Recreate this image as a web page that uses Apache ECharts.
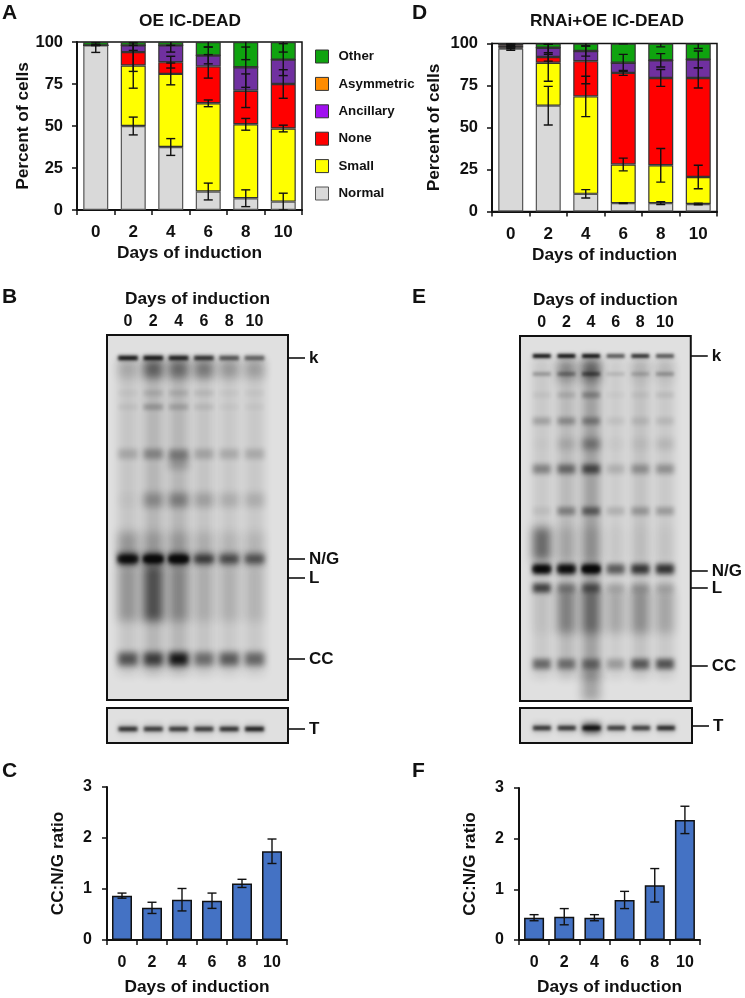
<!DOCTYPE html>
<html>
<head>
<meta charset="utf-8">
<style>html,body{margin:0;padding:0;background:#fff}#c{width:745px;height:998px}</style>
<script src="https://cdn.jsdelivr.net/npm/echarts@6/dist/echarts.min.js"></script>
</head>
<body>
<div id="c"></div>
<script>
var days = ['0','2','4','6','8','10'];
var dayValues = [0,2,4,6,8,10];
var seriesNames = ['Normal','Small','None','Ancillary','Asymmetric','Other'];

// Panel A: stacked segments
var aNormal = [98,50,37.5,11,7,5];
var aSmall = [0,36,43.5,52.5,44,43.5];
var aNone = [0,8,7,22,20,26.5];
var aAncillary = [0,4,10,6.5,14,14.5];
var aAsymmetric = [0,0,0,0,0,0];
var aOther = [2,2,2,8,15,10.5];
// Panel A: error half-widths
var aNormalErr = [4.2,5.3,5,5,5,5];
var aSmallErr = [0,13.5,6.5,2,3.5,2];
var aNoneErr = [0,11.5,3.5,7,10,8.5];
var aAncillaryErr = [0,3,4,5,12,9.5];
var aOtherErr = [0.5,2,2,3,10.5,6];

// Panel D: stacked segments
var dNormal = [97,63,10.5,5,5,4.5];
var dSmall = [0.5,25.5,58,23,22.5,16];
var dNone = [1.5,3.5,21,54.5,52,59];
var dAncillary = [0.5,5.5,6,6,10.5,11];
var dAsymmetric = [0,0,0,0,0,0];
var dOther = [0.5,2.5,4.5,11.5,10,9.5];
// Panel D: error half-widths
var dNormalErr = [1,11.5,2.5,0.3,0.8,0.5];
var dSmallErr = [0.5,11,12,3.8,10,7];
var dNoneErr = [1,2.5,13.5,1.5,5,6];
var dAncillaryErr = [0.5,4,3,5,4,5];
var dOtherErr = [0.5,0.5,1.5,0.2,2,3];

// Panels C and F
var cRatio = [0.87,0.63,0.79,0.77,1.11,1.74];
var cErr = [0.05,0.11,0.22,0.15,0.08,0.24];
var fRatio = [0.44,0.46,0.44,0.79,1.08,2.37];
var fErr = [0.06,0.16,0.06,0.17,0.33,0.27];

// Gel band tables: [migration, thickness, darkness per lane]
var gelBRows = [
  [182,316,[.12,.2,.2,.13,.11,.11]],
  [34,18,[.15,.5,.45,.4,.25,.22]],
  [58,6,[.03,.1,.1,.08,.03,.03]],
  [72,6,[.05,.22,.16,.08,.03,.03]],
  [119,10,[.17,.3,.3,.18,.16,.16]],
  [127,14,[0,0,.22,0,0,0]],
  [165,14,[.03,.28,.35,.2,.14,.14]],
  [210,26,[.25,.18,.18,.12,.1,.1]],
  [258,56,[.25,.6,.28,.12,.12,.1]],
  [23,4.5,[1,1,.95,.85,.66,.6]],
  [224,11,[1,1,1,.65,.62,.58]],
  [224,6,[.75,1,1,.25,.12,.12]],
  [324,13,[.62,.72,.95,.48,.58,.52]]
];
var gelBLowerRows = [[21,4.5,[.85,.8,.8,.8,.85,.95]],[21,11,[.12,.12,.12,.12,.12,.12]]];

var gelERows = [
  [182,320,[.11,.18,.3,.09,.14,.11]],
  [38,4,[.28,.38,.55,.12,.18,.28]],
  [35,20,[0,.28,.42,0,.08,.08]],
  [59,6,[.05,.12,.27,.03,.05,.08]],
  [85,7,[.22,.3,.35,.07,.1,.1]],
  [108,11,[.02,.12,.35,.03,.06,.1]],
  [133,9,[.38,.5,.65,.15,.3,.3]],
  [175,8,[.07,.35,.5,.14,.25,.24]],
  [208,32,[.5,.12,.12,.03,.03,.03]],
  [275,44,[.05,.33,.38,.18,.28,.18]],
  [20,4,[1,1,1,.65,.85,.65]],
  [233,10,[1,.98,1,.55,.72,.75]],
  [233,5,[.65,.45,1,.05,.12,.12]],
  [252,9,[.72,.35,.55,.15,.2,.15]],
  [328,10,[.5,.45,.45,.25,.58,.62]],
  [350,30,[0,0,.28,0,0,0]]
];
var gelELowerRows = [[20,4.5,[.82,.82,1,.78,.78,.88]],[20,11,[.12,.12,.6,.1,.1,.12]]];

var gelBLabels = {23:'k',224:'N/G',243:'L',324:'CC'};
var gelELabels = {20:'k',235:'N/G',252:'L',330:'CC'};
var lowerLabelB = {21:'T'};
var lowerLabelE = {18:'T'};

var FONT = 'Liberation Sans';
var INK = '#111';
var grids = [], xAxes = [], yAxes = [], series = [];

function bold(size){ return {fontFamily:FONT,fontWeight:'bold',fontSize:size,color:INK}; }

function addGrid(rect){ grids.push(rect); return grids.length-1; }

function errSeries(idx, base, errs){
  var data = base.map(function(v,i){ return [i, v, v-errs[i], v+errs[i]]; });
  series.push({
    type:'custom', xAxisIndex:idx, yAxisIndex:idx, clip:true, z:6, silent:true,
    encode:{x:0,y:[1,2,3]}, data:data,
    renderItem:function(params,api){
      var x = api.value(0), lo = api.coord([x,api.value(2)]), hi = api.coord([x,api.value(3)]);
      var cap = 4.5;
      var ls = {stroke:'#111',lineWidth:1.4,fill:null};
      return {type:'group',children:[
        {type:'line',shape:{x1:lo[0],y1:lo[1],x2:hi[0],y2:hi[1]},style:ls},
        {type:'line',shape:{x1:lo[0]-cap,y1:lo[1],x2:lo[0]+cap,y2:lo[1]},style:ls},
        {type:'line',shape:{x1:hi[0]-cap,y1:hi[1],x2:hi[0]+cap,y2:hi[1]},style:ls}
      ]};
    }
  });
}

var stackColors = {Normal:'#d9d9d9',Small:'#ffff00',None:'#ff0000',Ancillary:'#7030a0',Asymmetric:'#ff8c00',Other:'#0fa30f'};
var stackBorders = {Normal:'#555',Small:'#333',None:'#333',Ancillary:'#333',Asymmetric:'#333',Other:'#333'};

function stackedPanel(rect, segs, errs, nameGap, stackId){
  var idx = addGrid(Object.assign({show:true,borderColor:INK,borderWidth:1.5,backgroundColor:'#fff'},rect));
  xAxes.push({type:'category',gridIndex:idx,data:days,
    axisLine:{lineStyle:{color:INK,width:2}},
    axisTick:{show:true,length:5,lineStyle:{color:INK,width:1.5}},
    axisLabel:Object.assign(bold(17),{margin:14}),
    name:'Days of induction',nameLocation:'middle',nameGap:35,nameTextStyle:bold(17.3)});
  yAxes.push({type:'value',gridIndex:idx,min:0,max:100,interval:25,
    axisLine:{show:true,lineStyle:{color:INK,width:2}},
    axisTick:{show:true,length:5,lineStyle:{color:INK,width:1.5}},
    splitLine:{show:false},
    axisLabel:Object.assign(bold(16.5),{margin:14}),
    name:'Percent of cells',nameLocation:'middle',nameGap:nameGap,nameTextStyle:bold(17.3)});
  seriesNames.forEach(function(n,k){
    series.push({type:'bar',name:n,stack:stackId,xAxisIndex:idx,yAxisIndex:idx,data:segs[k],barWidth:25,z:3,
      itemStyle:{color:stackColors[n],borderColor:stackBorders[n],borderWidth:1.2},
      emphasis:{disabled:true}});
  });
  var cum = days.map(function(){return 0;});
  segs.forEach(function(seg,k){
    cum = cum.map(function(c,i){return c+seg[i];});
    if(errs[k]) errSeries(idx,cum.slice(),errs[k]);
  });
}

function ratioPanel(rect, values, errs){
  var idx = addGrid(rect);
  xAxes.push({type:'category',gridIndex:idx,data:days,
    axisLine:{lineStyle:{color:INK,width:2}},
    axisTick:{show:true,length:5,lineStyle:{color:INK,width:1.5}},
    axisLabel:Object.assign(bold(16),{margin:15}),
    name:'Days of induction',nameLocation:'middle',nameGap:39,nameTextStyle:bold(17.3)});
  yAxes.push({type:'value',gridIndex:idx,min:0,max:3,interval:1,
    axisLine:{show:true,lineStyle:{color:INK,width:2}},
    axisTick:{show:true,length:5,lineStyle:{color:INK,width:1.5}},
    splitLine:{show:false},
    axisLabel:Object.assign(bold(16),{margin:15}),
    name:'CC:N/G ratio',nameLocation:'middle',nameGap:40,nameTextStyle:bold(17.3)});
  series.push({type:'bar',xAxisIndex:idx,yAxisIndex:idx,data:values,barWidth:20,z:3,
    itemStyle:{color:'#4472c4',borderColor:'#111',borderWidth:1.5},emphasis:{disabled:true}});
  errSeries(idx,values,errs);
}

function gelSeries(idx, rows, laneDays){
  var data = [];
  rows.forEach(function(r){
    dayValues.forEach(function(d,i){
      if(r[2][i]>0) data.push([d,r[0],r[1],r[2][i]]);
    });
  });
  series.push({
    type:'custom',xAxisIndex:idx,yAxisIndex:idx,clip:true,silent:true,z:3,
    encode:{x:0,y:1},data:data,
    renderItem:function(params,api){
      var c = api.coord([api.value(0),api.value(1)]);
      var h = Math.abs(api.size([0,api.value(2)])[1]);
      var w = api.size([laneDays,0])[0];
      var blur = 1.5+Math.min(h*0.4,8);
      var OFF = 3000;
      return {type:'rect',silent:true,
        shape:{x:c[0]-w/2-OFF,y:c[1]-h/2,width:w,height:h},
        style:{fill:'#000',shadowBlur:blur,shadowOffsetX:OFF,shadowColor:'rgba(8,8,8,'+api.value(3)+')'}};
    }
  });
}

function gelPanel(rect, xMin, xMax, yMax, rows, labels, top, laneDays){
  var idx = addGrid(Object.assign({show:true,borderColor:INK,borderWidth:2,backgroundColor:'#e0e0e0'},rect));
  var vals = Object.keys(labels).map(Number);
  xAxes.push({type:'value',gridIndex:idx,min:xMin,max:xMax,position:'top',show:true,
    axisLine:{show:false},axisTick:{show:false},splitLine:{show:false},
    axisLabel:Object.assign(bold(16),{show:top,margin:5,customValues:dayValues,formatter:function(v){return String(v);}}),
    name:top?'Days of induction':'',nameLocation:'middle',nameGap:27,nameTextStyle:bold(17.3)});
  yAxes.push({type:'value',gridIndex:idx,min:0,max:yMax,inverse:true,position:'right',
    axisLine:{show:false,onZero:false},splitLine:{show:false},
    axisTick:{show:true,length:17,customValues:vals,lineStyle:{color:INK,width:1.6}},
    axisLabel:Object.assign(bold(17),{margin:21,customValues:vals,formatter:function(v){return labels[v]||'';}})});
  gelSeries(idx,rows,laneDays);
}

stackedPanel({left:77,top:42,width:225,height:168},
  [aNormal,aSmall,aNone,aAncillary,aAsymmetric,aOther],
  [aNormalErr,aSmallErr,aNoneErr,aAncillaryErr,null,aOtherErr],45,'a');
stackedPanel({left:492,top:43.5,width:225,height:168},
  [dNormal,dSmall,dNone,dAncillary,dAsymmetric,dOther],
  [dNormalErr,dSmallErr,dNoneErr,dAncillaryErr,null,dOtherErr],49,'d');

gelPanel({left:107,top:335,width:181,height:365},-1.66,12.65,365,gelBRows,gelBLabels,true,1.55);
gelPanel({left:107,top:708,width:181,height:35},-1.66,12.65,35,gelBLowerRows,lowerLabelB,false,1.5);
gelPanel({left:520,top:336,width:172,height:365},-1.77,12.1,365,gelERows,gelELabels,true,1.45);
gelPanel({left:520,top:708,width:172,height:35},-1.77,12.1,35,gelELowerRows,lowerLabelE,false,1.45);

ratioPanel({left:107,top:787,width:180,height:153},cRatio,cErr);
ratioPanel({left:519,top:788,width:181,height:152},fRatio,fErr);

function letter(t,x,y){ return {text:t,left:x,top:y,padding:0,textStyle:bold(21)}; }

var chart = echarts.init(document.getElementById('c'),null,{renderer:'canvas'});
chart.setOption({
  animation:false,
  backgroundColor:'#fff',
  title:[
    letter('A',2,3),letter('B',2,287),letter('C',2,761),
    letter('D',412,3),letter('E',412,287),letter('F',412,761),
    {text:'OE IC-DEAD',left:190,top:13,padding:0,textAlign:'center',textStyle:bold(17.3)},
    {text:'RNAi+OE IC-DEAD',left:607,top:13,padding:0,textAlign:'center',textStyle:bold(17.3)}
  ],
  legend:{
    orient:'vertical',left:315,top:49.5,padding:0,itemWidth:13,itemHeight:13,itemGap:13.4,
    icon:'rect',selectedMode:false,
    textStyle:Object.assign(bold(13.3),{padding:[0,0,0,5]}),
    data:[
      {name:'Other',itemStyle:{color:'#0fa30f',borderColor:'#333',borderWidth:1}},
      {name:'Asymmetric',itemStyle:{color:'#ff8c00',borderColor:'#333',borderWidth:1}},
      {name:'Ancillary',itemStyle:{color:'#a010f0',borderColor:'#333',borderWidth:1}},
      {name:'None',itemStyle:{color:'#ff0000',borderColor:'#333',borderWidth:1}},
      {name:'Small',itemStyle:{color:'#ffff00',borderColor:'#333',borderWidth:1}},
      {name:'Normal',itemStyle:{color:'#d9d9d9',borderColor:'#555',borderWidth:1}}
    ]
  },
  tooltip:{show:false},
  grid:grids,xAxis:xAxes,yAxis:yAxes,series:series
});
</script>
</body>
</html>
